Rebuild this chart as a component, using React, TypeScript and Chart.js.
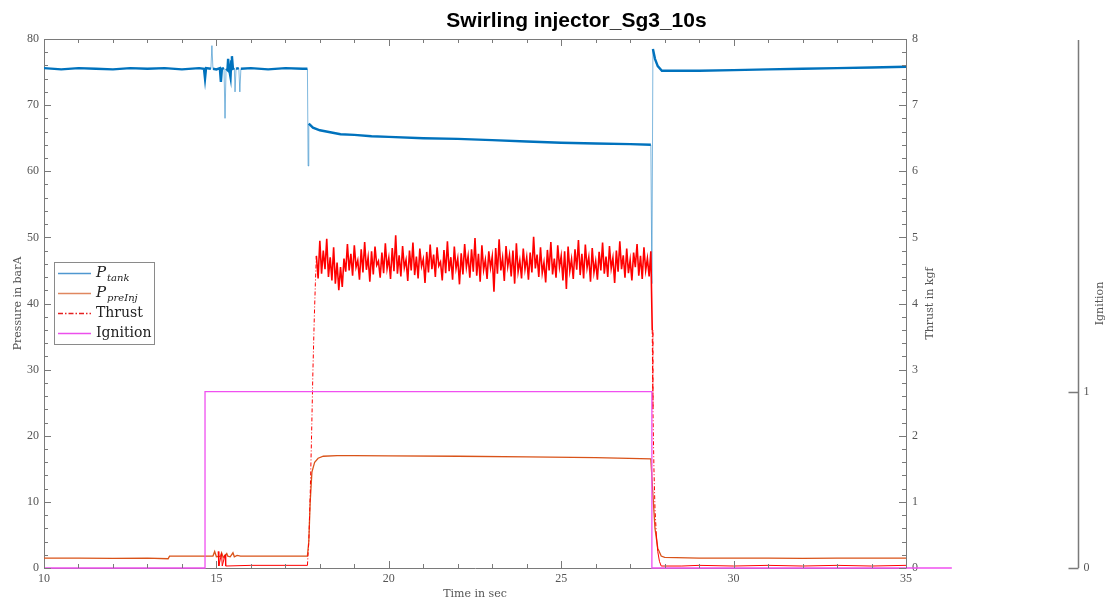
import React, { useEffect, useRef } from "react";
import { Chart, registerables } from "chart.js";
Chart.register(...registerables);

// ---------- text ----------
const chartTitle = "Swirling injector_Sg3_10s";
const xAxisTitle = "Time in sec";
const leftAxisTitle = "Pressure in barA";
const thrustAxisTitle = "Thrust in kgf";
const ignitionAxisTitle = "Ignition";
const ignitionTickValues = [0, 1];

// ---------- P_tank (barA) ----------
const tankTime = [10.0, 10.5, 11.0, 11.5, 12.0, 12.5, 13.0, 13.5, 14.0, 14.5, 14.64, 14.67, 14.7, 14.84, 14.87, 14.9, 15.0, 15.1, 15.13, 15.16, 15.22, 15.25, 15.28, 15.32, 15.34, 15.37, 15.41, 15.43, 15.45, 15.48, 15.52, 15.54, 15.57, 15.65, 15.68, 15.71, 16.0, 16.5, 17.0, 17.5, 17.64, 17.66, 17.68, 17.8, 18.0, 18.3, 18.6, 19.0, 19.5, 20.0, 21.0, 22.0, 23.0, 24.0, 25.0, 26.0, 27.0, 27.6, 27.63, 27.66, 27.72, 27.8, 27.92, 28.5, 29.0, 30.0, 31.0, 32.0, 33.0, 34.0, 35.0];
const tankPressure = [75.6, 75.4, 75.6, 75.5, 75.4, 75.6, 75.5, 75.6, 75.4, 75.6, 75.5, 74.0, 75.6, 75.5, 79.0, 75.5, 75.4, 75.6, 73.5, 75.5, 75.6, 68.0, 75.5, 75.3, 77.0, 75.4, 74.2, 76.6, 77.4, 75.5, 75.6, 72.0, 75.5, 75.6, 72.0, 75.5, 75.6, 75.4, 75.6, 75.5, 75.5, 60.8, 67.2, 66.6, 66.2, 65.9, 65.6, 65.5, 65.3, 65.2, 65.0, 64.9, 64.7, 64.5, 64.3, 64.2, 64.1, 64.0, 43.0, 78.5, 77.0, 75.9, 75.2, 75.2, 75.2, 75.3, 75.4, 75.5, 75.6, 75.7, 75.8];

// ---------- P_preInj (barA) ----------
const preInjTime = [10, 11, 12, 13, 13.6, 13.64, 14, 14.5, 14.9, 14.95, 15.0, 15.12, 15.15, 15.2, 15.3, 15.33, 15.4, 15.48, 15.52, 15.6, 15.7, 16, 17, 17.64, 17.68, 17.72, 17.77, 17.85, 17.95, 18.1, 18.5, 19, 20, 22, 24, 26, 27.6, 27.65, 27.72, 27.8, 27.9, 28.0, 29, 30, 31, 32, 33, 34, 35];
const preInjPressure = [1.5, 1.5, 1.45, 1.5, 1.4, 1.8, 1.8, 1.8, 1.8, 2.5, 1.7, 1.8, 2.3, 1.6, 2.2, 1.8, 1.7, 2.3, 1.7, 1.9, 1.8, 1.8, 1.8, 1.8, 4.0, 10.0, 14.5, 16.0, 16.6, 16.9, 17.0, 17.0, 16.95, 16.9, 16.8, 16.7, 16.5, 12.0, 6.0, 3.0, 1.8, 1.6, 1.5, 1.5, 1.5, 1.45, 1.5, 1.5, 1.5];

// ---------- Thrust (kgf) ----------
const thrustLeadTime = [15.05, 15.07, 15.15, 15.17, 15.25, 15.27, 16.0, 17.0, 17.64, 17.68, 17.72, 17.76, 17.8, 17.84, 17.87];
const thrustLeadValue = [0.25, 0.03, 0.22, 0.03, 0.2, 0.03, 0.04, 0.04, 0.04, 0.4, 1.1, 2.0, 3.0, 3.8, 4.3];
const thrustNoiseStart = 17.9;
const thrustNoiseStep = 0.05;
const thrustNoise = [
  4.72, 4.38, 4.95, 4.45, 4.80, 4.52, 4.98, 4.40, 4.70, 4.35,
  4.85, 4.30, 4.62, 4.20, 4.55, 4.25, 4.68, 4.48, 4.90, 4.50,
  4.75, 4.42, 4.88, 4.55, 4.65, 4.36, 4.82, 4.47, 4.93, 4.51,
  4.70, 4.33, 4.79, 4.44, 4.86, 4.58, 4.64, 4.39, 4.77, 4.46,
  4.91, 4.53, 4.69, 4.37, 4.84, 4.49, 5.03, 4.45, 4.73, 4.41,
  4.87, 4.54, 4.66, 4.34, 4.80, 4.50, 4.92, 4.43, 4.71, 4.38,
  4.83, 4.56, 4.67, 4.31, 4.78, 4.47, 4.89, 4.52, 4.74, 4.40,
  4.85, 4.57, 4.63, 4.35, 4.81, 4.46, 4.94, 4.49, 4.70, 4.36,
  4.86, 4.53, 4.68, 4.29, 4.76, 4.44, 4.90, 4.55, 4.72, 4.39,
  4.82, 4.48, 4.99, 4.42, 4.75, 4.33, 4.88, 4.51, 4.66, 4.37,
  4.79, 4.54, 4.71, 4.18, 4.84, 4.45, 4.97, 4.50, 4.69, 4.34,
  4.87, 4.56, 4.73, 4.41, 4.80, 4.30, 4.91, 4.48, 4.65, 4.38,
  4.83, 4.52, 4.70, 4.36, 4.77, 4.47, 5.01, 4.53, 4.74, 4.40,
  4.85, 4.46, 4.62, 4.32, 4.81, 4.50, 4.93, 4.44, 4.68, 4.39,
  4.88, 4.55, 4.72, 4.35, 4.79, 4.22, 4.86, 4.49, 4.67, 4.37,
  4.82, 4.51, 4.96, 4.43, 4.75, 4.38, 4.89, 4.54, 4.70, 4.33,
  4.84, 4.47, 4.64, 4.36, 4.78, 4.50, 4.92, 4.45, 4.71, 4.40,
  4.87, 4.53, 4.69, 4.31, 4.80, 4.48, 4.94, 4.52, 4.73, 4.39,
  4.83, 4.46, 4.66, 4.35, 4.77, 4.55, 4.90, 4.42, 4.72, 4.37,
  4.85, 4.50, 4.68, 4.41, 4.79,
];
const thrustTailTime = [27.64, 27.66, 27.69, 27.72, 27.76, 27.8, 27.85, 27.9, 28.5, 29, 30, 31, 32, 33, 34, 35];
const thrustTailValue = [3.6, 2.4, 1.5, 0.9, 0.5, 0.25, 0.1, 0.03, 0.03, 0.04, 0.03, 0.04, 0.03, 0.04, 0.03, 0.04];

// ---------- Ignition ----------
const ignitionTime = [10, 14.67, 14.67, 27.63, 27.63, 36.33];
const ignitionValue = [0, 0, 1, 1, 0, 0];

// ---------- legend ----------
const legendMain = ["P", "P", "Thrust", "Ignition"];
const legendSub = ["tank", "preInj", "", ""];
const legendColors = ["#4f97d0", "#e0875f", "#e62020", "#ec4fec"];
const legendDash: number[][] = [[], [], [5, 2, 1.5, 2], []];

// ---------- styles ----------
const tankColor = "#0072BD";
const tankSteepColor = "rgba(0,114,189,0.5)";
const preInjColor = "#D95319";
const thrustColor = "#FF0000";
const ignitionColor = "#F050F0";
const axisColor = "#7a7a7a";
const labelColor = "#555555";
const serif = "'Liberation Serif', 'DejaVu Serif', serif";
const serif2 = "'DejaVu Serif', serif";

const zip = (t: number[], v: number[]) => t.map((x, i) => ({ x, y: v[i] }));

function buildThrust() {
  const pts = zip(thrustLeadTime, thrustLeadValue);
  thrustNoise.forEach((v, i) => pts.push({ x: thrustNoiseStart + i * thrustNoiseStep, y: v }));
  return pts.concat(zip(thrustTailTime, thrustTailValue));
}

const decorPlugin = {
  id: "matlabDecor",
  afterDraw(chart: any) {
    const { ctx, chartArea, scales } = chart;
    const { left, right, top, bottom } = chartArea;
    const W = chart.width;
    ctx.save();
    ctx.strokeStyle = axisColor;
    ctx.lineWidth = 1;
    ctx.beginPath();
    ctx.moveTo(left, top + 0.5);
    ctx.lineTo(right, top + 0.5);
    ctx.stroke();
    const xs = scales.x;
    ctx.beginPath();
    for (let i = 10; i <= 35; i++) {
      const px = Math.round(xs.getPixelForValue(i)) + 0.5;
      const len = i % 5 === 0 ? 7 : 4;
      ctx.moveTo(px, bottom);
      ctx.lineTo(px, bottom - len);
      ctx.moveTo(px, top);
      ctx.lineTo(px, top + len);
    }
    const ys = scales.y;
    for (let i = 0; i <= 40; i++) {
      const py = Math.round(ys.getPixelForValue(i * 2)) + 0.5;
      const len = i % 5 === 0 ? 7 : 4;
      ctx.moveTo(left, py);
      ctx.lineTo(left + len, py);
    }
    const ts = scales.yThrust;
    for (let i = 0; i <= 40; i++) {
      const py = Math.round(ts.getPixelForValue(i * 0.2)) + 0.5;
      const len = i % 5 === 0 ? 7 : 4;
      ctx.moveTo(right, py);
      ctx.lineTo(right - len, py);
    }
    ctx.stroke();

    // ignition axis
    const is = scales.yIgn;
    const ax = right + 172.5;
    ctx.lineWidth = 1.5;
    ctx.beginPath();
    ctx.moveTo(ax, is.getPixelForValue(is.max) + 1);
    ctx.lineTo(ax, is.getPixelForValue(0));
    ignitionTickValues.forEach((v) => {
      const py = Math.round(is.getPixelForValue(v)) + 0.5;
      ctx.moveTo(ax, py);
      ctx.lineTo(ax - 10, py);
    });
    ctx.stroke();
    ctx.fillStyle = labelColor;
    ctx.font = `12px ${serif}`;
    ctx.textAlign = "left";
    ctx.textBaseline = "middle";
    ignitionTickValues.forEach((v) => {
      ctx.fillText(String(v), ax + 5, is.getPixelForValue(v));
    });

    const midY = (top + bottom) / 2;
    ctx.font = `11px ${serif2}`;
    ctx.textAlign = "center";
    ctx.textBaseline = "middle";
    [[right + 24, thrustAxisTitle], [right + 194, ignitionAxisTitle]].forEach(([x, t]: any) => {
      ctx.save();
      ctx.translate(x, midY);
      ctx.rotate(-Math.PI / 2);
      ctx.fillText(t, 0, 0);
      ctx.restore();
    });

    ctx.fillStyle = "#000";
    ctx.font = "bold 21px 'Liberation Sans', Arial, sans-serif";
    ctx.textAlign = "center";
    ctx.textBaseline = "middle";
    ctx.fillText(chartTitle, (left + W) / 2, 21);

    // legend
    const lx = left + 10, ly = 262, lw = 100, lh = 82;
    ctx.fillStyle = "#fff";
    ctx.fillRect(lx, ly, lw, lh);
    ctx.strokeStyle = "#8a8a8a";
    ctx.lineWidth = 1;
    ctx.strokeRect(lx + 0.5, ly + 0.5, lw, lh);
    const rows = [273, 293, 313, 333];
    for (let i = 0; i < legendMain.length; i++) {
      const y = rows[i] + 0.5;
      ctx.save();
      ctx.beginPath();
      ctx.setLineDash(legendDash[i]);
      ctx.lineWidth = 1.5;
      ctx.strokeStyle = legendColors[i];
      ctx.moveTo(lx + 4, y);
      ctx.lineTo(lx + 37, y);
      ctx.stroke();
      ctx.restore();
      ctx.fillStyle = "#222";
      ctx.textAlign = "left";
      ctx.textBaseline = "middle";
      const tx = lx + 42;
      if (legendSub[i]) {
        ctx.font = `italic 15px ${serif2}`;
        ctx.fillText(legendMain[i], tx, rows[i]);
        const w = ctx.measureText(legendMain[i]).width;
        ctx.font = `italic 10px ${serif2}`;
        ctx.fillText(legendSub[i], tx + w + 1, rows[i] + 5);
      } else {
        ctx.font = `14px ${serif2}`;
        ctx.fillText(legendMain[i], tx, rows[i]);
      }
    }
    ctx.restore();
  },
};

export default function App() {
  const ref = useRef<HTMLCanvasElement>(null);
  useEffect(() => {
    if (!ref.current) return;
    const steep = (c: any) => {
      const dx = Math.abs(c.p1.parsed.x - c.p0.parsed.x);
      const dy = Math.abs(c.p1.parsed.y - c.p0.parsed.y);
      return dx < 0.06 && dy > 3;
    };
    const rampDash = (c: any) => {
      const x0 = c.p0.parsed.x;
      const dy = Math.abs(c.p1.parsed.y - c.p0.parsed.y);
      return dy > 0.3 && (x0 < 17.88 || x0 > 27.62) ? [4, 2, 1, 2] : [];
    };
    const rampWidth = (c: any) => {
      const x0 = c.p0.parsed.x;
      return x0 >= 17.88 && x0 <= 27.62 ? 1.6 : 1;
    };
    const chart = new Chart(ref.current, {
      type: "line",
      data: {
        datasets: [
          {
            label: "P_tank",
            data: zip(tankTime, tankPressure),
            borderColor: tankColor,
            borderWidth: 2.4,
            yAxisID: "y",
            order: 4,
            segment: {
              borderWidth: (c: any) => (steep(c) ? 1 : 2.4),
              borderColor: (c: any) => (steep(c) ? tankSteepColor : tankColor),
            },
          } as any,
          {
            label: "P_preInj",
            data: zip(preInjTime, preInjPressure),
            borderColor: preInjColor,
            borderWidth: 1.3,
            yAxisID: "y",
            order: 3,
          } as any,
          {
            label: "Thrust",
            data: buildThrust(),
            borderColor: thrustColor,
            borderWidth: 1,
            yAxisID: "yThrust",
            order: 2,
            segment: { borderDash: rampDash, borderWidth: rampWidth },
          } as any,
          {
            label: "Ignition",
            data: zip(ignitionTime, ignitionValue),
            borderColor: ignitionColor,
            borderWidth: 1.3,
            yAxisID: "yIgn",
            order: 1,
            clip: false,
          } as any,
        ],
      },
      options: {
        animation: false,
        responsive: false,
        devicePixelRatio: 1,
        elements: { point: { radius: 0 }, line: { tension: 0 } },
        layout: { padding: { top: 39, right: 168, bottom: 0, left: 0 } },
        plugins: { legend: { display: false }, tooltip: { enabled: false }, title: { display: false } },
        scales: {
          x: {
            type: "linear",
            min: 10,
            max: 35,
            grid: { display: false, drawTicks: false, tickLength: 0 },
            border: { display: true, color: axisColor },
            ticks: { stepSize: 5, color: labelColor, font: { family: serif, size: 12 }, padding: 4, maxRotation: 0 },
            title: { display: true, text: xAxisTitle, color: labelColor, font: { family: serif2, size: 11 }, padding: { top: 0, bottom: 0 } },
            afterFit: (s: any) => { s.height = 33; },
          },
          y: {
            type: "linear",
            position: "left",
            min: 0,
            max: 80,
            grid: { display: false, drawTicks: false, tickLength: 0 },
            border: { display: true, color: axisColor },
            ticks: { stepSize: 10, color: labelColor, font: { family: serif, size: 12 }, padding: 5 },
            title: { display: true, text: leftAxisTitle, color: labelColor, font: { family: serif2, size: 11 }, padding: { top: 12, bottom: 0 } },
            afterFit: (s: any) => { s.width = 44; },
          },
          yThrust: {
            type: "linear",
            position: "right",
            min: 0,
            max: 8,
            grid: { display: false, drawTicks: false, tickLength: 0 },
            border: { display: true, color: axisColor },
            ticks: { stepSize: 1, color: labelColor, font: { family: serif, size: 12 }, padding: 6 },
            afterFit: (s: any) => { s.width = 35; },
          },
          yIgn: {
            type: "linear",
            position: "right",
            display: false,
            min: 0,
            max: 3,
          },
        },
      } as any,
      plugins: [decorPlugin],
    });
    return () => chart.destroy();
  }, []);
  return (
    <div style={{ position: "fixed", left: 0, top: 0, width: 1109, height: 601, background: "#fff" }}>
      <canvas ref={ref} width={1109} height={601} style={{ width: 1109, height: 601 }} />
    </div>
  );
}
